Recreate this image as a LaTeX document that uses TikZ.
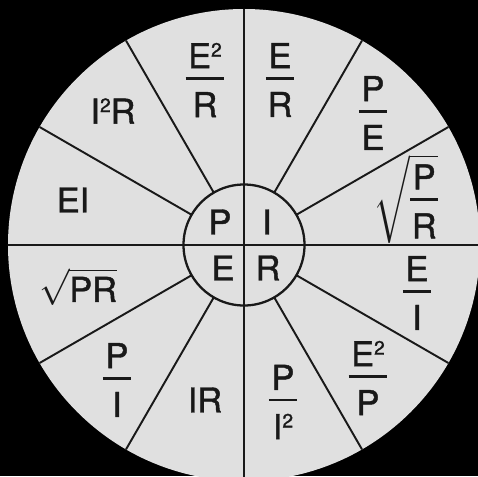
\documentclass[tikz,border=0pt]{standalone}
\usepackage{amsmath}
\usepackage{fontspec}
\setmainfont{TeX Gyre Heros}
\newfontfamily\wheelfont{TeX Gyre Heros}[FakeBold=1.2]
\definecolor{wheelgray}{RGB}{224,224,224}
\definecolor{wheelink}{RGB}{25,25,25}
% stacked fraction with a heavy bar
\newcommand{\ohmfrac}[2]{\ensuremath{\vcenter{\offinterlineskip
  \halign{\hfil##\hfil\cr
    \kern1.5pt #1\kern1.5pt\cr
    \noalign{\kern5pt\hrule height1.6pt\kern7pt}
    #2\cr}}}}
\newcommand{\sqd}{\raisebox{6.6pt}{\fontsize{11}{11}\selectfont 2}}
\tikzset{
  rim/.style={circle, fill=wheelgray, minimum size=9.44cm, inner sep=0pt, outer sep=0pt},
  hub/.style={circle, draw=wheelink, minimum size=2.42cm, inner sep=0pt,
              outer sep=0pt, line width=1.3pt},
  spoke/.style={draw=wheelink, line width=1.1pt},
  lbl/.style={font=\wheelfont\fontsize{19.5}{23}\selectfont, text=wheelink, inner sep=0pt},
}
\begin{document}
\begin{tikzpicture}
  % frame
  \useasboundingbox (-4.88,-4.62) rectangle (4.68,4.90);
  \clip (-4.88,-4.62) rectangle (4.68,4.90);
  \fill[black] (-4.88,-4.62) rectangle (4.68,4.90);

  % wheel and hub
  \node[rim] (rim) at (0,0) {};
  \node[hub] (hub) at (0,0) {};
  \draw[spoke] (rim.90) -- (rim.270);
  \draw[spoke] (rim.0) -- (rim.180);
  \foreach \a in {30,60,120,150,210,240,300,330}
    \draw[spoke] (hub.\a) -- (rim.\a);

  % hub letters
  \node[lbl] (p) at (-0.48,0.46) {P};
  \node[lbl] (i) at (0.46,0.46) {I};
  \node[lbl] (e) at (-0.42,-0.46) {E};
  \node[lbl] (r) at (0.48,-0.46) {R};

  % power
  \node[lbl] (i2r) at (-2.62,2.68) {I\sqd R};
  \node[lbl] (e2r) at (-0.78,3.30) {\ohmfrac{E\sqd}{R}};
  \node[lbl] (ei) at (-3.42,0.90) {EI};
  % current
  \node[lbl] (er) at (0.72,3.30) {\ohmfrac{E}{R}};
  \node[lbl] (pe) at (2.58,2.64) {\ohmfrac{P}{E}};
  \node[lbl] (spr) at (3.24,0.92) {$\sqrt{\ohmfrac{P}{R}}$};
  % voltage
  \node[lbl] (sqpr) at (-3.32,-0.84) {$\sqrt{\text{PR}}$};
  \node[lbl] (pi) at (-2.54,-2.70) {\ohmfrac{P}{I}};
  \node[lbl] (ir) at (-0.78,-3.10) {IR};
  % resistance
  \node[lbl] (pi2) at (0.78,-3.14) {\ohmfrac{P}{I\sqd}};
  \node[lbl] (e2p) at (2.48,-2.66) {\ohmfrac{E\sqd}{P}};
  \node[lbl] (ei2) at (3.46,-0.96) {\ohmfrac{E}{I}};
\end{tikzpicture}
\end{document}
